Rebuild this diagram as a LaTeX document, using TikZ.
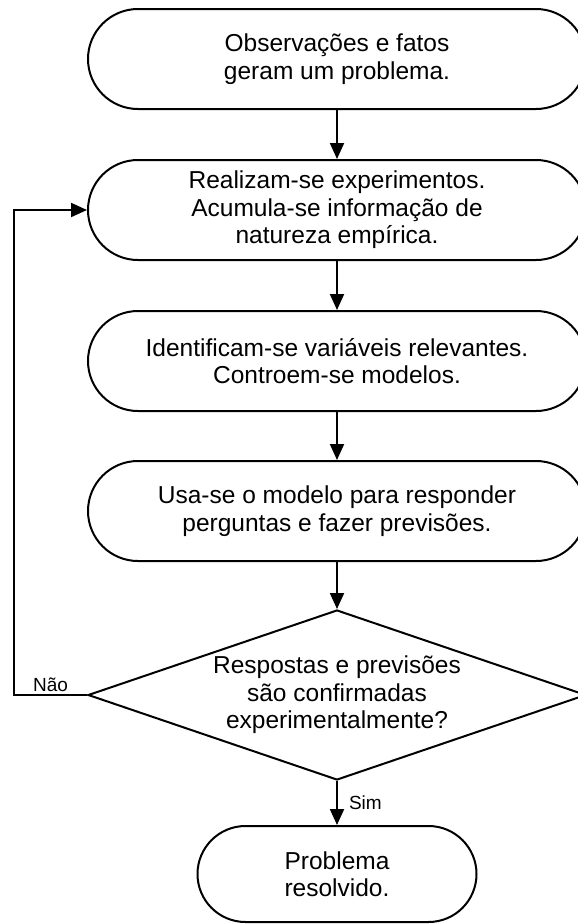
\documentclass[tikz,border=0pt]{standalone}
\usepackage{fontspec}
\setmainfont{Liberation Sans}
\usetikzlibrary{arrows.meta,positioning,shapes.geometric}

\tikzset{
  etapa/.style={draw,line width=2pt,rounded corners=50pt,minimum width=498pt,
    minimum height=100pt,inner sep=0pt,align=center,font=\fontsize{24.5}{27.5}\selectfont},
  final/.style={etapa,minimum width=279pt,minimum height=96pt,rounded corners=48pt},
  decisao/.style={draw,diamond,line width=2pt,aspect=2.93,minimum width=498pt,
    minimum height=170pt,inner sep=0pt,align=center,font=\fontsize{24.5}{27.5}\selectfont},
  seta/.style={line width=2pt,-{Triangle[length=16pt,width=14pt]}},
  rotulo/.style={font=\fontsize{19}{22}\selectfont,inner sep=2pt}
}

\begin{document}
\begin{tikzpicture}
  \clip (0,0) rectangle (578pt,-924pt);
  \node[etapa] (obs) at (337pt,-59pt) {Observações e fatos\\geram um problema.};
  \node[etapa,below=49pt of obs] (exp) {Realizam-se experimentos.\\Acumula-se informação de\\natureza empírica.};
  \node[etapa,below=49pt of exp] (var) {Identificam-se variáveis relevantes.\\Controem-se modelos.};
  \node[etapa,below=48pt of var] (mod) {Usa-se o modelo para responder\\perguntas e fazer previsões.};
  \node[decisao,below=47pt of mod] (dec) {Respostas e previsões\\são confirmadas\\experimentalmente?};
  \node[final,below=44pt of dec] (fim) {Problema\\resolvido.};
  \coordinate (volta) at ([xshift=-73pt]dec.west);

  \draw[seta] (obs) -- (exp);
  \draw[seta] (exp) -- (var);
  \draw[seta] (var) -- (mod);
  \draw[seta] (mod) -- (dec);
  \draw[seta] (dec) -- node[rotulo,right,xshift=9pt] (sim) {Sim} (fim);
  \draw[seta] (dec.west) -- node[rotulo,above] (nao) {Não} (volta) |- (exp.west);
\end{tikzpicture}
\end{document}
